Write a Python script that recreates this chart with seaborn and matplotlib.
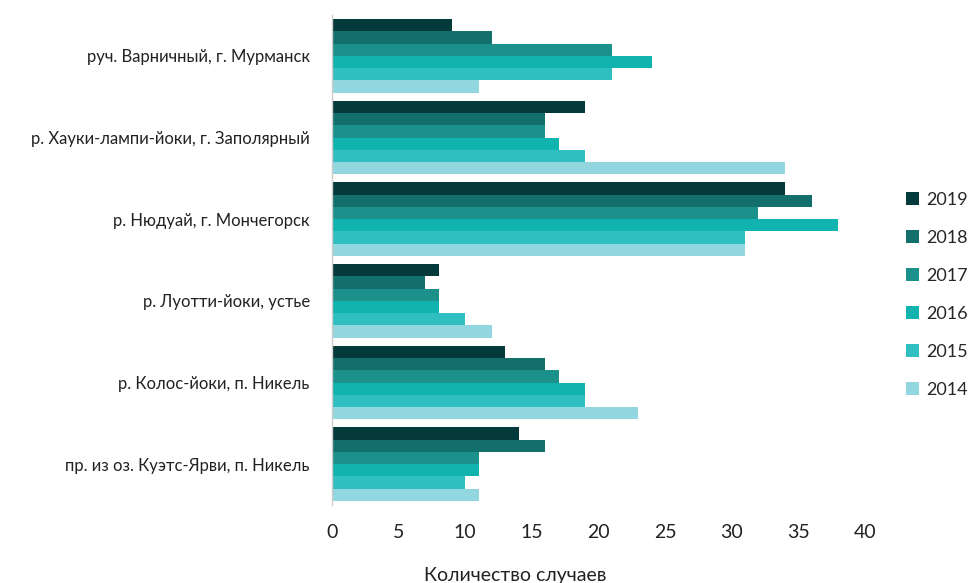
import pandas as pd
import matplotlib
matplotlib.use("Agg")
import matplotlib.pyplot as plt
import seaborn as sns

# Данные
sites = [
    "руч. Варничный, г. Мурманск",
    "р. Хауки-лампи-йоки, г. Заполярный",
    "р. Нюдуай, г. Мончегорск",
    "р. Луотти-йоки, устье",
    "р. Колос-йоки, п. Никель",
    "пр. из оз. Куэтс-Ярви, п. Никель",
]
years = ["2019", "2018", "2017", "2016", "2015", "2014"]
v2019 = [9, 19, 34, 8, 13, 14]
v2018 = [12, 16, 36, 7, 16, 16]
v2017 = [21, 16, 32, 8, 17, 11]
v2016 = [24, 17, 38, 8, 19, 11]
v2015 = [21, 19, 31, 10, 19, 10]
v2014 = [11, 34, 31, 12, 23, 11]
colors = ["#043a3a", "#136f6b", "#1c918b", "#10b3ad", "#30bfc0", "#92d6e0"]

series = dict(zip(years, [v2019, v2018, v2017, v2016, v2015, v2014]))
rows = []
for y, vals in series.items():
    for s, v in zip(sites, vals):
        rows.append({"site": s, "year": y, "count": v})
df = pd.DataFrame(rows)

sns.set_style("white")
plt.rcParams["font.family"] = ["Lato", "DejaVu Sans"]

fig = plt.figure(figsize=(9.69, 5.83), dpi=100)
ax = fig.add_axes([332 / 969, 78 / 583, 533 / 969, 490 / 583])

sns.barplot(data=df, y="site", x="count", hue="year", order=sites,
            hue_order=years, palette=colors, orient="h", width=0.9,
            linewidth=0, saturation=1, ax=ax)

ax.set_xlim(0, 40)
ax.set_xticks(range(0, 41, 5))
ax.tick_params(axis="both", length=0, labelsize=14, colors="#222222")
ax.tick_params(axis="y", labelsize=12, pad=16)
ax.tick_params(axis="x", pad=14)
ax.set_ylabel("")
ax.set_xlabel("")
for side in ["top", "right", "bottom"]:
    ax.spines[side].set_visible(False)
ax.spines["left"].set_color("#cccccc")
ax.spines["left"].set_linewidth(1)

fig.text(515 / 969, 1 - 575 / 583, "Количество случаев", ha="center",
         va="center", fontsize=14, color="#222222")

handles, labels = ax.get_legend_handles_labels()
ax.legend_.remove()
fig.legend(handles, labels, loc="center left", bbox_to_anchor=(906 / 969, 1 - 295 / 583),
           frameon=False, fontsize=13, handlelength=0.7, handleheight=0.7,
           handletextpad=0.4, labelspacing=1.22, borderaxespad=0, borderpad=0)

fig.savefig("out.png", dpi=100)
